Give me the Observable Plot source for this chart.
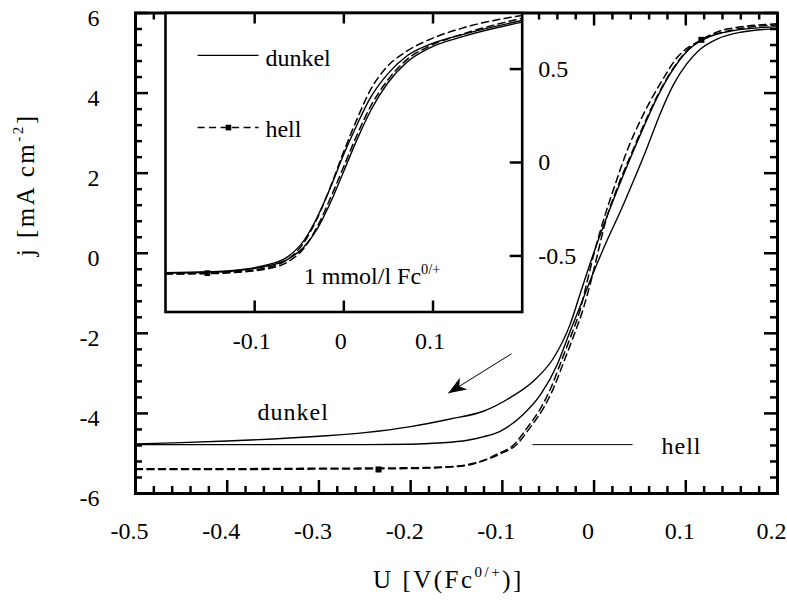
<!DOCTYPE html>
<html><head><meta charset="utf-8">
<script src="https://cdn.jsdelivr.net/npm/d3@7"></script>
<script src="https://cdn.jsdelivr.net/npm/@observablehq/plot@0.6"></script>
<style>
html,body{margin:0;padding:0;background:#fff;}
#wrap{position:relative;width:787px;height:604px;}
#wrap svg{position:absolute;left:0;top:0;}
</style></head><body><div id="wrap"></div>
<script>
// ---------- main chart data: U [V] vs j [mA cm^-2] ----------
const dunkelAx = [-0.5,-0.45,-0.4,-0.35,-0.3,-0.25,-0.2,-0.157,-0.12,-0.091,-0.066,-0.044,-0.026,-0.015,-0.002,0.011,0.025,0.040,0.054,0.069,0.083,0.102,0.120,0.152,0.2];
const dunkelAy = [-4.76,-4.73,-4.69,-4.64,-4.57,-4.48,-4.33,-4.14,-3.94,-3.60,-3.19,-2.61,-1.77,-1.0,-0.10,0.73,1.56,2.40,3.15,3.90,4.48,5.06,5.35,5.56,5.66];
const dunkelBx = [-0.5,-0.4,-0.3,-0.25,-0.2,-0.17,-0.138,-0.12,-0.102,-0.077,-0.058,-0.040,-0.026,-0.013,0.0,0.014,0.029,0.043,0.058,0.072,0.087,0.101,0.116,0.134,0.160,0.2];
const dunkelBy = [-4.78,-4.78,-4.78,-4.78,-4.77,-4.74,-4.67,-4.58,-4.44,-4.02,-3.52,-2.77,-1.94,-1.2,-0.44,0.31,1.06,1.81,2.65,3.48,4.23,4.73,5.10,5.35,5.52,5.61];
const hellAx = [-0.5,-0.4,-0.3,-0.211,-0.157,-0.127,-0.106,-0.087,-0.073,-0.058,-0.047,-0.037,-0.026,-0.015,-0.008,0.0,0.011,0.022,0.036,0.054,0.072,0.091,0.117,0.145,0.2];
const hellAy = [-5.40,-5.40,-5.39,-5.38,-5.34,-5.23,-5.02,-4.77,-4.36,-3.86,-3.36,-2.77,-2.11,-1.40,-0.75,0.0,0.88,1.65,2.56,3.48,4.23,4.90,5.33,5.60,5.73];
const hellBx = [-0.5,-0.4,-0.3,-0.211,-0.157,-0.127,-0.103,-0.084,-0.070,-0.055,-0.044,-0.034,-0.023,-0.012,-0.004,0.003,0.012,0.025,0.040,0.054,0.069,0.083,0.102,0.120,0.152,0.2];
const hellBy = [-5.38,-5.38,-5.37,-5.36,-5.33,-5.22,-5.02,-4.77,-4.36,-3.86,-3.36,-2.77,-2.11,-1.40,-0.75,-0.1,0.75,1.62,2.45,3.20,3.93,4.50,5.08,5.36,5.58,5.70];
const hellMarkX = [-0.235, 0.117];
const hellMarkY = [-5.40, 5.33];

// ---------- inset data (1 mmol/l Fc) ----------
const insetX = [-0.2,-0.153,-0.127,-0.09,-0.064,-0.045,-0.03,-0.015,0,0.015,0.03,0.049,0.071,0.097,0.135,0.2];
const insetDunkelA = [-0.59,-0.585,-0.579,-0.552,-0.508,-0.419,-0.294,-0.134,0.045,0.205,0.348,0.473,0.571,0.633,0.687,0.76];
const insetDunkelB = [-0.592,-0.588,-0.582,-0.558,-0.521,-0.454,-0.357,-0.214,-0.045,0.125,0.277,0.424,0.538,0.615,0.676,0.751];
const insetHellA = [-0.595,-0.593,-0.587,-0.566,-0.522,-0.43,-0.30,-0.13,0.06,0.235,0.39,0.515,0.597,0.66,0.722,0.787];
const insetHellB = [-0.597,-0.595,-0.59,-0.572,-0.535,-0.46,-0.345,-0.19,-0.02,0.15,0.30,0.44,0.552,0.625,0.69,0.772];
const insetMarkX = [-0.153];
const insetMarkY = [-0.592];

// ---------- ticks ----------
const xMajor = [-0.5,-0.4,-0.3,-0.2,-0.1,0,0.1,0.2];
const yMajor = [-6,-4,-2,0,2,4,6];
const insetXTicks = [-0.1,0,0.1];
const insetYTicks = [-0.5,0,0.5];

// ---------- texts ----------
const xTitle = "U [V(Fc^{0/+})]";
const yTitle = "j [mA cm^{-2}]";
const labDunkel = "dunkel", labHell = "hell", insetNote = "1 mmol/l Fc^{0/+}";

// annotation anchors (data units)
const annMain = {dunkel:[-0.367,-3.98], hell:[0.0735,-4.81], hellLine:[-0.0671,0.0419,-4.78], arrow:[-0.090,-2.51,-0.159,-3.495]};
const annInset = {dunkel:[-0.0879,0.560], hell:[-0.0879,0.175], lineY:[0.573,0.187], lineX:[-0.164,-0.0957], mark:-0.1294, note:[-0.045,-0.611]};

const W = 787, H = 604;
const font = "Liberation Serif";
const HEAD = "#010101";
const pts = (xs, ys) => xs.map((x, i) => ({x, y: ys[i]}));
const fmt = d => String(d);
const solid = {x:"x", y:"y", stroke:"black", strokeWidth:1.4, curve:"monotone-x"};
const dash = {x:"x", y:"y", stroke:"black", strokeWidth:1.5, strokeDasharray:"7,4.5", curve:"monotone-x"};
const isMajor = (v, majors) => majors.some(m => Math.abs(m - v) < 1e-9);
const xMinor = d3.range(-50, 21, 2).map(v => v / 100).filter(v => !isMajor(v, xMajor));
const yMinor = d3.range(-60, 61, 4).map(v => v / 10).filter(v => !isMajor(v, yMajor));

// main geometry
const mm = {l:135, r:10, t:12.5, b:111};
const fw = W - mm.l - mm.r, fh = H - mm.t - mm.b;
const tk = {stroke:"black", strokeWidth:2.5};
function edgeTicks(xs, ys, len, fwid, fhei, sides) {
  const out = [];
  if (sides.includes("b")) out.push(Plot.ruleX(xs, {x:d=>d, insetTop: fhei - len, ...tk}));
  if (sides.includes("t")) out.push(Plot.ruleX(xs, {x:d=>d, insetBottom: fhei - len, ...tk}));
  if (sides.includes("l")) out.push(Plot.ruleY(ys, {y:d=>d, insetRight: fwid - len, ...tk}));
  if (sides.includes("r")) out.push(Plot.ruleY(ys, {y:d=>d, insetLeft: fwid - len, ...tk}));
  return out;
}
const txt = {fontSize:24, fontFamily:font, fill:"black"};

const main = Plot.plot({
  width: W, height: H,
  marginLeft: mm.l, marginRight: mm.r, marginTop: mm.t, marginBottom: mm.b,
  x: {domain: [-0.5, 0.2]},
  y: {domain: [-6, 6]},
  style: {fontFamily: font, fontSize: "24px", color: "black", background: "white", overflow: "visible"},
  marks: [
    Plot.line(pts(dunkelAx, dunkelAy), solid),
    Plot.line(pts(dunkelBx, dunkelBy), solid),
    Plot.line(pts(hellAx, hellAy), dash),
    Plot.line(pts(hellBx, hellBy), dash),
    Plot.dot(pts(hellMarkX, hellMarkY), {x:"x", y:"y", symbol:"square", r:3.4, fill:"black"}),
    Plot.link([annMain.hellLine], {x1:d=>d[0], x2:d=>d[1], y1:d=>d[2], y2:d=>d[2], stroke:"black", strokeWidth:1}),
    Plot.link([annMain.arrow], {x1:d=>d[0], y1:d=>d[1], x2:d=>d[2], y2:d=>d[3], stroke:"black", strokeWidth:1}),
    Plot.dot([annMain.arrow], {x:d=>d[2], y:d=>d[3], symbol:"triangle", r:5, fill:HEAD, stroke:"none"}),
    Plot.text([labDunkel], {x:()=>annMain.dunkel[0], y:()=>annMain.dunkel[1], text:d=>d, textAnchor:"start", ...txt}),
    Plot.text([labHell], {x:()=>annMain.hell[0], y:()=>annMain.hell[1], text:d=>d, textAnchor:"start", ...txt}),
    ...edgeTicks(xMinor, yMinor, 7, fw, fh, "btlr"),
    ...edgeTicks(xMajor, yMajor, 13, fw, fh, "btlr"),
    Plot.frame({stroke:"black", strokeWidth:3}),
    Plot.axisX(xMajor, {anchor:"bottom", tickSize:0, tickPadding:28, tickFormat:fmt, dx:-6, label:null, ...txt}),
    Plot.axisY(yMajor, {anchor:"left", tickSize:0, tickPadding:36, tickFormat:fmt, dy:5, label:null, ...txt}),
    Plot.text([xTitle], {frameAnchor:"bottom", text:d=>d, dx:-8, dy:94, ...txt, fontSize:25}),
    Plot.text([yTitle], {frameAnchor:"left", text:d=>d, rotate:-90, dx:-110, dy:3, ...txt, fontSize:25})
  ]
});

// inset geometry
const im = {l:165, r:W - 521.7, t:12.5, b:H - 311.5};
const ifw = W - im.l - im.r, ifh = H - im.t - im.b;
const inset = Plot.plot({
  width: W, height: H,
  marginLeft: im.l, marginRight: im.r, marginTop: im.t, marginBottom: im.b,
  x: {domain: [-0.2, 0.2]},
  y: {domain: [-0.8, 0.8]},
  style: {fontFamily: font, fontSize: "24px", color: "black", background: "transparent", overflow: "visible"},
  marks: [
    Plot.frame({fill:"white", stroke:"none"}),
    Plot.line(pts(insetX, insetDunkelA), solid),
    Plot.line(pts(insetX, insetDunkelB), solid),
    Plot.line(pts(insetX, insetHellA), dash),
    Plot.line(pts(insetX, insetHellB), dash),
    Plot.dot(pts(insetMarkX, insetMarkY), {x:"x", y:"y", symbol:"square", r:3.2, fill:"black"}),
    // legend
    Plot.link([annInset.lineY[0]], {x1:()=>annInset.lineX[0], x2:()=>annInset.lineX[1], y1:d=>d, y2:d=>d, stroke:"black", strokeWidth:1.4}),
    Plot.link([annInset.lineY[1]], {x1:()=>annInset.lineX[0], x2:()=>annInset.lineX[1], y1:d=>d, y2:d=>d, stroke:"black", strokeWidth:1.5, strokeDasharray:"7,4.5"}),
    Plot.dot([annInset.mark], {x:d=>d, y:()=>annInset.lineY[1], symbol:"square", r:3.2, fill:"black"}),
    Plot.text([labDunkel], {x:()=>annInset.dunkel[0], y:()=>annInset.dunkel[1], text:d=>d, textAnchor:"start", ...txt}),
    Plot.text([labHell], {x:()=>annInset.hell[0], y:()=>annInset.hell[1], text:d=>d, textAnchor:"start", ...txt}),
    Plot.text([insetNote], {x:()=>annInset.note[0], y:()=>annInset.note[1], text:d=>d, textAnchor:"start", ...txt}),
    ...edgeTicks(insetXTicks, [], 11, ifw, ifh, "bt"),
    ...edgeTicks([], insetYTicks, 12, ifw, ifh, "r"),
    Plot.frame({stroke:"black", strokeWidth:2.6}),
    Plot.axisX(insetXTicks, {anchor:"bottom", tickSize:0, tickPadding:20, tickFormat:fmt, dx:-3, label:null, ...txt}),
    Plot.axisY(insetYTicks, {anchor:"right", tickSize:0, tickPadding:16, tickFormat:fmt, label:null, ...txt})
  ]
});

const wrap = document.getElementById("wrap");
wrap.append(main, inset);

// barbed, filled arrowhead: reshape the triangle symbol and turn it along the arrow
main.querySelectorAll(`[fill="${HEAD}"]`).forEach(el => {
  const paths = el.tagName.toLowerCase() === "path" ? [el] : el.querySelectorAll("path");
  paths.forEach(p => {
    p.setAttribute("d", "M0,0L7,18L0,13L-7,18Z");
    p.setAttribute("transform", (p.getAttribute("transform") || "") + " rotate(238)");
  });
});

const spacing = new Map([[xTitle, "2.5px"], [yTitle, "2.5px"], [labDunkel, "1px"], [labHell, "1px"]]);
function richText(svg, spaced) {
  svg.querySelectorAll("text").forEach(t => {
    const s = t.textContent;
    if (spaced && spacing.has(s)) t.setAttribute("letter-spacing", spacing.get(s));
    if (!s.includes("^{")) return;
    const fs = parseFloat(getComputedStyle(t).fontSize) || 24;
    while (t.firstChild) t.removeChild(t.firstChild);
    let raised = false;
    for (const p of s.split(/(\^\{[^}]*\})/)) {
      if (!p) continue;
      const ts = document.createElementNS("http://www.w3.org/2000/svg", "tspan");
      if (p.startsWith("^{")) {
        ts.textContent = p.slice(2, -1);
        ts.setAttribute("font-size", (fs * 0.6).toFixed(1));
        ts.setAttribute("dy", (-fs * 0.42).toFixed(1));
        raised = true;
      } else {
        ts.textContent = p;
        if (raised) { ts.setAttribute("dy", (fs * 0.42).toFixed(1)); raised = false; }
      }
      t.appendChild(ts);
    }
  });
}
richText(main, true);
richText(inset, false);
</script></body></html>
